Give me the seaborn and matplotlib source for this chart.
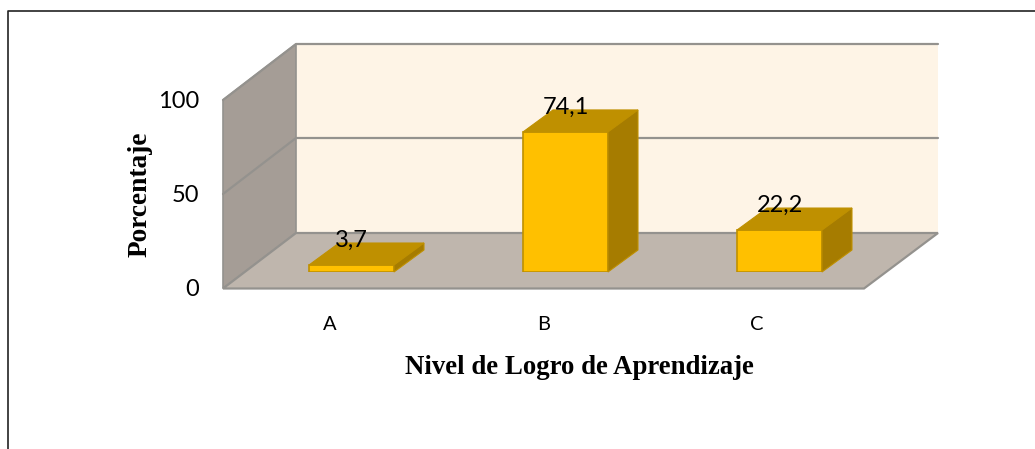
import matplotlib
matplotlib.use("Agg")
import matplotlib.pyplot as plt
from matplotlib.patches import Polygon
import pandas as pd
import seaborn as sns

categories = ["A", "B", "C"]
values = [3.7, 74.1, 22.2]
y_ticks = [0, 50, 100]
x_title = "Nivel de Logro de Aprendizaje"
y_title = "Porcentaje"

W, H = 1035, 449
sns.set_theme(style="white")
plt.rcParams["font.family"] = ["Lato", "DejaVu Sans"]

FRONT, TOP, SIDE, EDGE = "#FFC000", "#BF9000", "#A67C00", "#BF9000"
BACK, WALL, FLOOR, LINE = "#FEF4E6", "#A59D96", "#BFB6AD", "#94928E"
DEPTH_X, DEPTH_Y = 30, 22

fig = plt.figure(figsize=(W / 100, H / 100), dpi=100, facecolor="white")


def axes_px(x0, x1, y_top, y_bot, **kw):
    return fig.add_axes([x0 / W, 1 - y_bot / H, (x1 - x0) / W, (y_bot - y_top) / H], **kw)


# Background: chart frame and the room (walls and floor) in pixel space
bg = fig.add_axes([0, 0, 1, 1], zorder=0)
bg.set_xlim(0, W)
bg.set_ylim(H, 0)
bg.axis("off")
bg.plot([1035, 8, 8], [11, 11, 449], color="#222222", lw=1.2, solid_capstyle="butt")
bg.add_patch(Polygon([(296, 44), (938, 44), (938, 233), (296, 233)], fc=BACK, ec="none"))
bg.add_patch(Polygon([(223, 100), (296, 44), (296, 233), (223, 288.5)], fc=WALL, ec=LINE, lw=1.2))
bg.add_patch(Polygon([(223, 288.5), (296, 233), (938, 233), (864, 288.5)], fc=FLOOR, ec=LINE, lw=1.6))
bg.plot([223, 296, 938], [100, 44, 44], color=LINE, lw=1.6)
bg.plot([223, 296, 938], [194, 138, 138], color=LINE, lw=1.6)

# Front plane of the room carries the axis ticks and titles
front = axes_px(223, 864, 100, 288, zorder=1)
front.patch.set_alpha(0)
front.set_xlim(-0.5, 2.5)
front.set_ylim(0, 100)
front.set_xticks(range(len(categories)), categories)
front.set_yticks(y_ticks)
front.tick_params(axis="x", length=0, pad=20, labelsize=14.5, labelcolor="black")
front.tick_params(axis="y", length=0, pad=17, labelsize=17, labelcolor="black")
for s in front.spines.values():
    s.set_visible(False)
front.set_xlabel(x_title, family="Liberation Serif", weight="bold", fontsize=19.3, color="black")
front.xaxis.set_label_coords((579.5 - 223) / 641, -(367 - 288) / 188, transform=front.transAxes)
front.xaxis.label.set_va("center")
front.set_ylabel(y_title, family="Liberation Serif", weight="bold", fontsize=19.7, color="black")
front.yaxis.set_label_coords((140 - 223) / 641, (288 - 194.5) / 188, transform=front.transAxes)
front.yaxis.label.set_va("center")

# Bars stand mid-way in the depth of the room
ax = axes_px(244.5, 886.5, 83, 272, zorder=2)
ax.patch.set_alpha(0)
df = pd.DataFrame({"nivel": categories, "porcentaje": values})
sns.barplot(data=df, x="nivel", y="porcentaje", ax=ax, color=FRONT, saturation=1,
            width=0.397, edgecolor=EDGE, linewidth=1.2)
ax.set_xlim(-0.5, 2.5)
ax.set_ylim(0, 100)
ax.axis("off")

for bar in ax.patches:
    (x0, y0), (x1, y1) = ax.transData.transform(
        [(bar.get_x(), 0), (bar.get_x() + bar.get_width(), bar.get_height())])
    top = [(x0, y1), (x1, y1), (x1 + DEPTH_X, y1 + DEPTH_Y), (x0 + DEPTH_X, y1 + DEPTH_Y)]
    side = [(x1, y0), (x1 + DEPTH_X, y0 + DEPTH_Y), (x1 + DEPTH_X, y1 + DEPTH_Y), (x1, y1)]
    ax.add_patch(Polygon(top, fc=TOP, ec=EDGE, lw=0.8, transform=None, clip_on=False, zorder=2))
    ax.add_patch(Polygon(side, fc=SIDE, ec=EDGE, lw=0.8, transform=None, clip_on=False, zorder=2))

ax.bar_label(ax.containers[0], labels=[f"{v:.1f}".replace(".", ",") for v in values],
             padding=10, fontsize=17, color="black", zorder=5)

fig.savefig("out.png", dpi=100)
